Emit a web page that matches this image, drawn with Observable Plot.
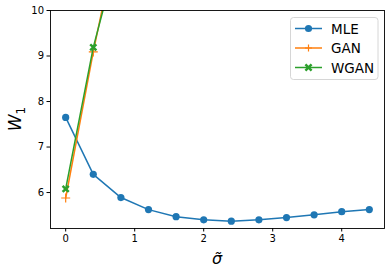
<!DOCTYPE html>
<html><head><meta charset="utf-8">
<script src="https://cdn.jsdelivr.net/npm/d3@7"></script>
<script src="https://cdn.jsdelivr.net/npm/@observablehq/plot@0.6"></script>
<style>
body{margin:0;background:#fff;}
#wrap{position:relative;width:391px;height:273px;font-family:"DejaVu Sans",sans-serif;}
#legend{position:absolute;left:0;top:0;}
</style></head>
<body><div id="wrap"></div>
<script>
const sigma = [0, 0.4, 0.8, 1.2, 1.6, 2.0, 2.4, 2.8, 3.2, 3.6, 4.0, 4.4];
const mleValues = [7.65, 6.40, 5.89, 5.625, 5.47, 5.40, 5.37, 5.40, 5.45, 5.51, 5.58, 5.625];
const advSigma = [0, 0.4, 0.8];
const ganValues = [5.88, 9.09, 12.0];
const wganValues = [6.08, 9.19, 11.5];
const seriesNames = ["MLE", "GAN", "WGAN"];
const colors = ["#1f77b4", "#ff7f0e", "#2ca02c"];
const xTicks = [0, 1, 2, 3, 4];
const yTicks = [6, 7, 8, 9, 10];

const mle = sigma.map((s, i) => ({s, v: mleValues[i]}));
const gan = advSigma.map((s, i) => ({s, v: ganValues[i]}));
const wgan = advSigma.map((s, i) => ({s, v: wganValues[i]}));

const xFilled = {
  draw(ctx, size) {
    const r = Math.sqrt(size / Math.PI) * 1.1;
    const a = (r * 0.4) / Math.SQRT2;
    const p = [
      [0, -2*a], [r - a, -r - a], [r + a, -r + a], [2*a, 0],
      [r + a, r - a], [r - a, r + a], [0, 2*a],
      [-r + a, r + a], [-r - a, r - a], [-2*a, 0],
      [-r - a, -r + a], [-r + a, -r - a]
    ];
    ctx.moveTo(p[0][0], p[0][1]);
    for (let i = 1; i < p.length; i++) ctx.lineTo(p[i][0], p[i][1]);
    ctx.closePath();
  }
};

const W = 391, H = 273;
const plot = Plot.plot({
  width: W, height: H,
  marginLeft: 50, marginRight: 7, marginTop: 10, marginBottom: 45,
  style: {fontFamily: "DejaVu Sans, sans-serif", fontSize: "10px", color: "#000", background: "#fff"},
  x: {domain: [-0.22, 4.62], ticks: xTicks, tickSize: 3.5, tickPadding: 3, label: null, tickFormat: d3.format("d")},
  y: {domain: [5.21, 10], ticks: yTicks, tickSize: 3.5, tickPadding: 3, label: null, tickFormat: d3.format("d")},
  marks: [
    Plot.line(mle, {x: "s", y: "v", stroke: colors[0], strokeWidth: 1.5, clip: true}),
    Plot.dot(mle, {x: "s", y: "v", fill: colors[0], r: 3.6, symbol: "circle", clip: true}),
    Plot.line(gan, {x: "s", y: "v", stroke: colors[1], strokeWidth: 1.5, clip: true}),
    Plot.dot(gan, {x: "s", y: "v", stroke: colors[1], r: 3.0, symbol: "plus", strokeWidth: 1.2, clip: true}),
    Plot.line(wgan, {x: "s", y: "v", stroke: colors[2], strokeWidth: 1.5, clip: true}),
    Plot.dot(wgan, {x: "s", y: "v", fill: colors[2], r: 2.8, symbol: xFilled, clip: true}),
    Plot.frame({stroke: "#000", strokeWidth: 0.9})
  ]
});
document.getElementById("wrap").appendChild(plot);

const xs = plot.scale("x"), ys = plot.scale("y");
const svg = d3.select(plot);
svg.selectAll("[aria-label$='tick'] path, [aria-label$='tick']").attr("stroke", "#000");
svg.append("text")
  .attr("x", (xs.range[0] + xs.range[1]) / 2).attr("y", 264)
  .attr("text-anchor", "middle").attr("font-size", 16).attr("font-style", "italic")
  .attr("font-family", "DejaVu Sans, sans-serif").attr("fill", "#000")
  .text("σ\u0303");
const yc = (ys.range[0] + ys.range[1]) / 2;
const yl = svg.append("text")
  .attr("transform", `translate(21,${yc}) rotate(-90)`)
  .attr("text-anchor", "middle").attr("font-size", 17)
  .attr("font-family", "DejaVu Sans, sans-serif").attr("fill", "#000");
yl.append("tspan").attr("font-style", "italic").text("W");
yl.append("tspan").attr("font-size", 12).attr("dy", 4).text("1");

const lg = d3.select("#wrap").append("svg").attr("id", "legend").attr("width", W).attr("height", H);
lg.append("rect").attr("x", 290.5).attr("y", 17.5).attr("width", 87.5).attr("height", 62)
  .attr("rx", 3).attr("fill", "#fff").attr("fill-opacity", 0.8).attr("stroke", "#ccc").attr("stroke-width", 0.8);
seriesNames.forEach((name, i) => {
  const y = 28.5 + i * 19.5;
  lg.append("line").attr("x1", 295).attr("x2", 322).attr("y1", y).attr("y2", y)
    .attr("stroke", colors[i]).attr("stroke-width", 1.5);
  const g = lg.append("g").attr("transform", `translate(308.5,${y})`);
  if (i === 0) g.append("circle").attr("r", 3.6).attr("fill", colors[i]);
  else if (i === 1) g.append("path").attr("d", "M-3.5,0H3.5M0,-3.5V3.5").attr("stroke", colors[i]).attr("stroke-width", 1.2);
  else g.append("path").attr("d", d3.symbol(xFilled, Math.PI * 2.8 * 2.8)()).attr("fill", colors[i]);
  lg.append("text").attr("x", 331).attr("y", y + 5).attr("font-size", 13.5)
    .attr("font-family", "DejaVu Sans, sans-serif").attr("fill", "#000").text(name);
});
</script>
</body></html>
